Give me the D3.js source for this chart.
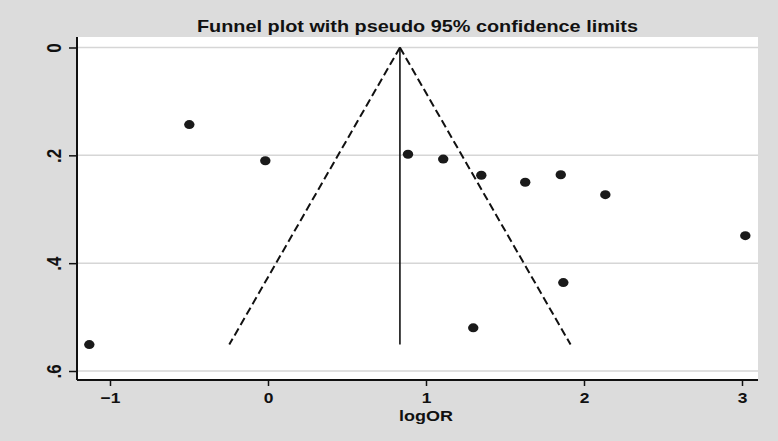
<!DOCTYPE html>
<html>
<head>
<meta charset="utf-8">
<script src="https://cdn.jsdelivr.net/npm/d3@7"></script>
<style>
  html, body { margin: 0; padding: 0; background: #DCDCDC; }
  svg { display: block; }
  text { font-family: "Liberation Sans", Arial, Helvetica, sans-serif; fill: #111; }
</style>
</head>
<body>
<script>
// Data
const logOR = [-1.131, -0.498, -0.017, 0.886, 1.109, 1.350, 1.628, 1.853, 2.135, 3.021, 1.869, 1.299];
const seLogOR = [0.551, 0.143, 0.210, 0.198, 0.207, 0.237, 0.250, 0.236, 0.273, 0.349, 0.436, 0.520];
const pooledEstimate = 0.835;
const xTicks = [-1, 0, 1, 2, 3];
const yTicks = [0, 0.2, 0.4, 0.6];
const yTickLabels = ["0", ".2", ".4", ".6"];
const titleText = "Funnel plot with pseudo 95% confidence limits";
const xTitle = "logOR";

const W = 778, H = 441;
const svg = d3.select("body").append("svg").attr("width", W).attr("height", H);

svg.append("rect").attr("width", W).attr("height", H).attr("fill", "#DCDCDC");

const plot = { left: 77, right: 758, top: 37, bottom: 380 };

const x = d3.scaleLinear().domain([-1, 3]).range([110, 742]);
const y = d3.scaleLinear().domain([0, 0.6]).range([47.5, 371]);

// plot region
svg.append("rect")
  .attr("x", plot.left).attr("y", plot.top)
  .attr("width", plot.right - plot.left).attr("height", plot.bottom - plot.top)
  .attr("fill", "#FFFFFF");

// gridlines
svg.append("g").selectAll("line").data(yTicks).join("line")
  .attr("x1", plot.left).attr("x2", plot.right)
  .attr("y1", d => y(d)).attr("y2", d => y(d))
  .attr("stroke", "#D6D6D6").attr("stroke-width", 1.5);

// funnel
const maxSE = d3.max(seLogOR);
const z = 1.96;
const funnelLeft = [[pooledEstimate, 0], [pooledEstimate - z * maxSE, maxSE]];
const funnelRight = [[pooledEstimate, 0], [pooledEstimate + z * maxSE, maxSE]];
const line = d3.line().x(d => x(d[0])).y(d => y(d[1]));
[funnelLeft, funnelRight].forEach(p => {
  svg.append("path").attr("d", line(p)).attr("fill", "none")
    .attr("stroke", "#111").attr("stroke-width", 2).attr("stroke-dasharray", "8,4");
});
svg.append("path").attr("d", line([[pooledEstimate, 0], [pooledEstimate, maxSE]]))
  .attr("fill", "none").attr("stroke", "#111").attr("stroke-width", 1.6);

// points
svg.append("g").selectAll("ellipse").data(logOR.map((v, i) => [v, seLogOR[i]])).join("ellipse")
  .attr("cx", d => x(d[0])).attr("cy", d => y(d[1]))
  .attr("rx", 5.2).attr("ry", 4.5)
  .attr("fill", "#1A1A1A");

// axes
const xAxis = svg.append("g").attr("transform", `translate(0,${plot.bottom})`)
  .call(d3.axisBottom(x).tickValues(xTicks).tickSize(6).tickPadding(3).tickFormat(d3.format("d")));
xAxis.select(".domain").attr("d", `M${plot.left},0H${plot.right}`).attr("stroke", "#111").attr("stroke-width", 2);
xAxis.selectAll(".tick line").attr("stroke", "#111").attr("stroke-width", 1.5);
xAxis.selectAll(".tick text").remove();
xAxis.selectAll(".tick").append("text")
  .attr("transform", "translate(0,23) scale(1.16,1)")
  .attr("text-anchor", "middle")
  .style("font-size", "15px").style("font-weight", "bold")
  .text(d => d3.format("d")(d));

const yAxis = svg.append("g").attr("transform", `translate(${plot.left},0)`)
  .call(d3.axisLeft(y).tickValues(yTicks).tickSize(8));
yAxis.select(".domain").attr("d", `M0,${plot.top}V${plot.bottom}`).attr("stroke", "#111").attr("stroke-width", 2);
yAxis.selectAll(".tick line").attr("stroke", "#111").attr("stroke-width", 1.5);
yAxis.selectAll(".tick text").remove();
yAxis.selectAll(".tick").append("text")
  .attr("transform", "translate(-16,0) rotate(-90) scale(1,1.16)")
  .attr("text-anchor", "middle")
  .style("font-size", "17px").style("font-weight", "bold")
  .text((d, i) => yTickLabels[i]);

// title
svg.append("text")
  .attr("x", (plot.left + plot.right) / 2).attr("y", 32)
  .attr("text-anchor", "middle")
  .attr("textLength", 441).attr("lengthAdjust", "spacingAndGlyphs")
  .style("font-size", "17px").style("font-weight", "bold")
  .text(titleText);

// x title
svg.append("text")
  .attr("transform", `translate(${x(1)},421) scale(1.16,1)`)
  .attr("text-anchor", "middle")
  .style("font-size", "15.5px").style("font-weight", "bold")
  .text(xTitle);
</script>
</body>
</html>
